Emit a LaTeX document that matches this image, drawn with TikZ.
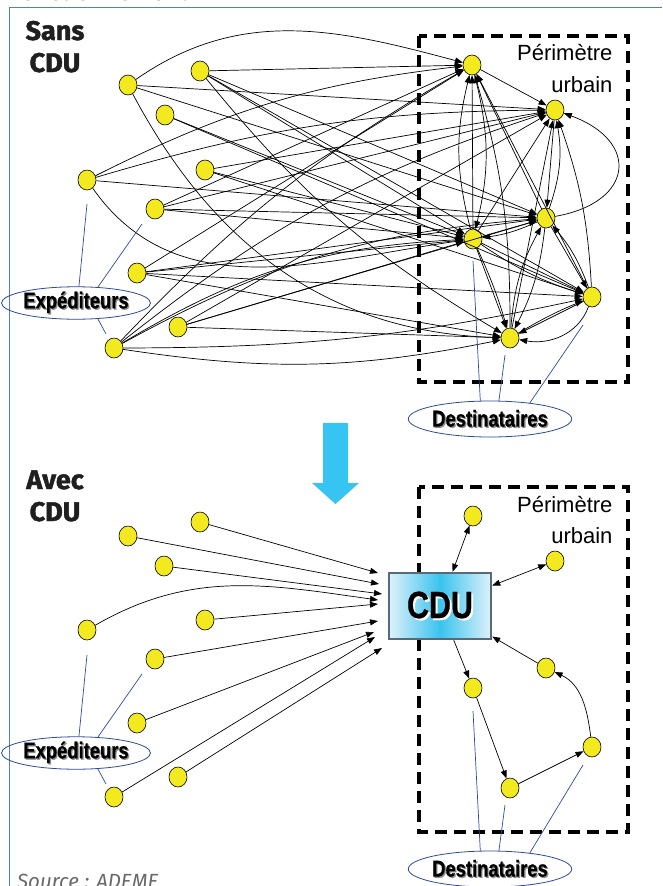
\documentclass[tikz,border=0pt]{standalone}
\usepackage{fontspec}
\setmainfont{Liberation Sans}
\newfontfamily\firafont{Fira Sans}
\newfontfamily\ttlfont[BoldFeatures={FakeBold=1.6}]{Fira Sans}
\newfontfamily\condfont[FakeStretch=0.8,BoldFeatures={FakeBold=0.6}]{Liberation Sans}
\usetikzlibrary{arrows.meta,shapes.geometric}
\definecolor{nodeyellow}{RGB}{242,234,30}
\definecolor{frameblue}{RGB}{79,129,189}
\definecolor{linkblue}{RGB}{46,74,158}
\definecolor{arrowblue}{RGB}{54,197,242}
\definecolor{cducyan}{RGB}{58,195,238}
\definecolor{cdulight}{RGB}{222,241,250}
\definecolor{cduborder}{RGB}{85,107,122}
\definecolor{shgray}{RGB}{140,140,140}
\definecolor{srcgray}{RGB}{105,105,105}
\newcommand{\shd}[3]{\makebox[0pt][l]{\hspace*{#2}\raisebox{-#2}{\textcolor{#3}{#1}}}#1}
\begin{document}
\begin{tikzpicture}[x=1pt,y=1pt,
  pt/.style={ellipse,draw=black,line width=0.6pt,fill=nodeyellow,minimum width=18pt,minimum height=20pt,inner sep=0pt},
  ar/.style={-{Triangle[length=8pt,width=6pt]},line width=0.7pt},
  dar/.style={{Triangle[length=8pt,width=6pt]}-{Triangle[length=8pt,width=6pt]},line width=0.7pt},
  lnk/.style={draw=linkblue,line width=0.7pt},
  grp/.style={ellipse,draw=linkblue,line width=0.8pt,minimum width=133pt,inner sep=0pt,font=\condfont\bfseries\fontsize{23}{24}\selectfont},
  zone/.style={draw,line width=3.4pt,dash pattern=on 12pt off 7pt},
  ttl/.style={anchor=base,font=\ttlfont\bfseries\fontsize{27}{30}\selectfont,text=black!88},
  peri/.style={anchor=base east,font=\fontsize{22}{24}\selectfont},
]
\useasboundingbox (0,0) rectangle (662,-886);
% frame and cut title
\draw[frameblue,line width=0.9pt] (9.5,-886) -- (9.5,-7.5) -- (662,-7.5);
\node[anchor=base west,inner sep=0pt,font=\firafont\fontsize{24}{26}\selectfont,text=black!75] (fct) at (10,-0.3) {Fonctionnement};

% ===================== SANS CDU =====================
\node[ttl] (t1a) at (55,-40) {Sans};
\node[ttl] (t1b) at (55,-72) {CDU};
\draw[zone] (419,-36) rectangle (628,-382);
\node[peri] (p1a) at (616,-60) {Périmètre};
\node[peri] (p1b) at (616,-92) {urbain};

\node[pt] (S1) at (128,-85) {};
\node[pt] (S2) at (200,-71) {};
\node[pt] (S3) at (165,-115) {};
\node[pt] (S4) at (87,-180) {};
\node[pt] (S5) at (205,-170) {};
\node[pt] (S6) at (155,-209) {};
\node[pt] (S7) at (137,-273) {};
\node[pt] (S8) at (178,-327) {};
\node[pt] (S9) at (114,-348) {};

\node[pt] (D1) at (472,-65) {};
\node[pt] (D2) at (555,-110) {};
\node[pt] (D3) at (546,-218) {};
\node[pt] (D4) at (473,-239) {};
\node[pt] (D5) at (592,-297) {};
\node[pt] (D6) at (510,-338) {};

% senders -> destinations
\draw[ar] (S1) to[out=35,in=165] (D1);
\draw[ar] (S1) -- (D2);
\draw[ar] (S1) -- (D3);
\draw[ar] (S1) to[out=-62,in=178] (D6);
\draw[ar] (S2) -- (D1);
\draw[ar] (S2) -- (D3);
\draw[ar] (S2) -- (D4);
\draw[ar] (S2) -- (D5);
\draw[ar] (S2) to[bend right=10] (D6);
\draw[ar] (S3) -- (D4);
\draw[ar] (S3) -- (D5);
\draw[ar] (S4) to[bend left=10] (D1);
\draw[ar] (S4) to[bend left=8] (D2);
\draw[ar] (S4) -- (D3);
\draw[ar] (S4) to[out=-55,in=188] (D4);
\draw[ar] (S5) -- (D2);
\draw[ar] (S5) -- (D4);
\draw[ar] (S5) -- (D5);
\draw[ar] (S6) -- (D1);
\draw[ar] (S6) -- (D2);
\draw[ar] (S6) -- (D3);
\draw[ar] (S6) -- (D4);
\draw[ar] (S7) -- (D1);
\draw[ar] (S7) -- (D3);
\draw[ar] (S7) -- (D4);
\draw[ar] (S7) -- (D5);
\draw[ar] (S7) -- (D6);
\draw[ar] (S8) -- (D2);
\draw[ar] (S8) -- (D3);
\draw[ar] (S8) -- (D4);
\draw[ar] (S8) -- (D6);
\draw[ar] (S9) to[bend left=8] (D1);
\draw[ar] (S9) to[bend left=10] (D2);
\draw[ar] (S9) to[bend left=12] (D3);
\draw[ar] (S9) to[bend left=14] (D4);
\draw[ar] (S9) to[bend right=10] (D6);
\draw[ar] (S9) to[bend right=6] (D5);

% inside the urban perimeter
\draw[ar] (D1) -- (D2);
\draw[ar] (D4) to[bend left=14] (D1);
\draw[ar] (D4) -- (D1);
\draw[ar] (D1) to[bend left=14] (D4);
\draw[ar] (D3) -- (D1);
\draw[ar] (D6) to[bend right=8] (D1);
\draw[ar] (D5) -- (D1);
\draw[ar] (D2) -- (D3);
\draw[ar] (D3) to[bend right=14] (D2);
\draw[ar] (D4) -- (D2);
\draw[ar] (D6) -- (D2);
\draw[ar] (D5) to[bend right=8] (D2);
\draw[ar] (D3) to[out=10,in=-20,looseness=2] (D2);
\draw[ar] (D4) -- (D3);
\draw[ar] (D3) to[bend left=8] (D4);
\draw[ar] (D4) -- (D5);
\draw[ar] (D4) to[bend right=8] (D5);
\draw[ar] (D4) -- (D6);
\draw[ar] (D4) to[bend left=4] (D6);
\draw[ar] (D6) to[bend left=12] (D3);
\draw[ar] (D3) to[bend left=10] (D6);
\draw[ar] (D3) -- (D5);
\draw[ar] (D5) to[bend right=10] (D3);
\draw[ar] (D5) -- (D6);
\draw[ar] (D6) to[bend left=4] (D5);
\draw[ar] (D5) to[out=-110,in=-10] (D6);

% groups
\node[grp,minimum height=30pt] (exp1) at (76,-303) {\shd{Expéditeurs}{1.3pt}{shgray}};
\node[grp,minimum height=36pt] (dst1) at (490,-419) {\shd{Destinataires}{1.3pt}{shgray}};
\coordinate (ea1) at (87,-204);
\coordinate (eb1) at (142,-224);
\coordinate (ec1) at (106,-334);
\draw[lnk] (ea1) -- (exp1.80);
\draw[lnk] (eb1) -- (exp1.36);
\draw[lnk] (exp1.-36) -- (ec1);
\coordinate (da1) at (473,-261);
\coordinate (db1) at (505,-355);
\coordinate (dc1) at (583,-325);
\draw[lnk] (da1) -- (dst1.118);
\draw[lnk] (db1) -- (dst1.64);
\draw[lnk] (dc1) -- (dst1.22);

% big arrow
\fill[arrowblue] (323,-423) -- (348,-423) -- (348,-483) -- (359,-483) -- (335.5,-504) -- (312,-483) -- (323,-483) -- cycle;

% ===================== AVEC CDU =====================
\node[ttl] (t2a) at (55,-489) {Avec};
\node[ttl] (t2b) at (55,-521) {CDU};
\draw[zone] (419,-487) rectangle (628,-832);
\node[peri] (p2a) at (616,-512) {Périmètre};
\node[peri] (p2b) at (616,-543) {urbain};

\node[draw=cduborder,line width=2.4pt,left color=cdulight,right color=cdulight,middle color=cducyan,minimum width=102pt,minimum height=66pt,inner sep=0pt,font=\condfont\bfseries\fontsize{38}{40}\selectfont] (cdu) at (440,-606) {\shd{CDU}{2pt}{white}};

\node[pt] (B1) at (128,-536) {};
\node[pt] (B2) at (200,-522) {};
\node[pt] (B3) at (164,-566) {};
\node[pt] (B4) at (87,-630) {};
\node[pt] (B5) at (205,-620) {};
\node[pt] (B6) at (155,-659) {};
\node[pt] (B7) at (137,-723) {};
\node[pt] (B8) at (178,-777) {};
\node[pt] (B9) at (114,-797) {};

\coordinate (c1) at (378,-573);
\coordinate (c2) at (379,-584);
\coordinate (c3) at (382,-594);
\coordinate (c4) at (378,-600);
\coordinate (c5) at (378,-604);
\coordinate (c6) at (378,-621);
\coordinate (c7) at (374,-632);
\coordinate (c8) at (382,-648);
\coordinate (c9) at (375,-637);
\draw[ar] (B2) -- (c1);
\draw[ar] (B1) -- (c2);
\draw[ar] (B3) -- (c3);
\draw[ar] (B4) to[out=30,in=172] (c4);
\draw[ar] (B5) -- (c5);
\draw[ar] (B6) -- (c6);
\draw[ar] (B7) -- (c7);
\draw[ar] (B9) -- (c9);
\draw[ar] (B8) -- (c8);

\node[pt] (E1) at (473,-516) {};
\node[pt] (E2) at (555,-561) {};
\node[pt] (E3) at (546,-668) {};
\node[pt] (E4) at (473,-688) {};
\node[pt] (E5) at (592,-747) {};
\node[pt] (E6) at (510,-788) {};

\draw[dar] (E1) -- (cdu);
\draw[dar] (E2) -- (cdu);
\draw[ar] (cdu) -- (E4);
\draw[ar] (E3) -- (cdu);
\draw[ar] (E4) -- (E6);
\draw[ar] (E6) -- (E5);
\draw[ar] (E5) to[out=97,in=-25] (E3);

\node[grp,minimum height=30pt] (exp2) at (76,-753) {\shd{Expéditeurs}{1.3pt}{shgray}};
\node[grp,minimum height=36pt] (dst2) at (490,-869) {\shd{Destinataires}{1.3pt}{shgray}};
\coordinate (ea2) at (87,-655);
\coordinate (eb2) at (142,-674);
\coordinate (ec2) at (106,-784);
\draw[lnk] (ea2) -- (exp2.80);
\draw[lnk] (eb2) -- (exp2.36);
\draw[lnk] (exp2.-36) -- (ec2);
\coordinate (da2) at (473,-711);
\coordinate (db2) at (505,-805);
\coordinate (dc2) at (583,-765);
\draw[lnk] (da2) -- (dst2.118);
\draw[lnk] (db2) -- (dst2.64);
\draw[lnk] (dc2) -- (dst2.22);

\node[anchor=base west,inner sep=0pt,font=\firafont\itshape\fontsize{20.5}{22}\selectfont,text=srcgray] (src) at (17,-888) {Source : ADEME};
\end{tikzpicture}
\end{document}
